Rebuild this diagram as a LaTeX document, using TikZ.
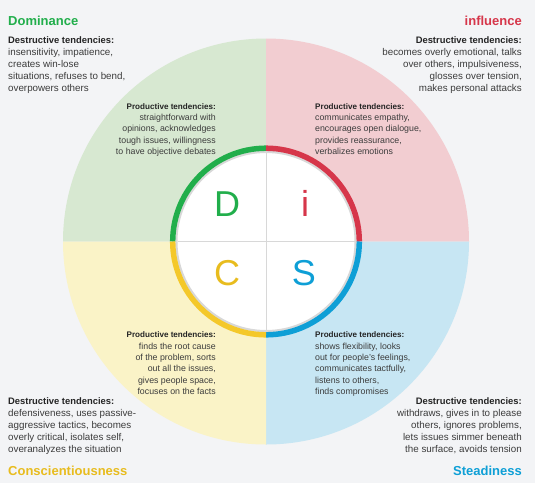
\documentclass[tikz,border=0pt]{standalone}
\usepackage{fontspec}
\setmainfont{Liberation Sans}
\usetikzlibrary{positioning}
\definecolor{discbg}{HTML}{F3F4F6}
\definecolor{discgreen}{HTML}{21AE4B}
\definecolor{discred}{HTML}{D6364A}
\definecolor{discyellow}{HTML}{F4C82A}
\definecolor{discblue}{HTML}{0E9FD6}
\definecolor{discgold}{HTML}{E8BC1E}
\definecolor{fillgreen}{HTML}{D7E8D1}
\definecolor{fillred}{HTML}{F2CDD1}
\definecolor{fillyellow}{HTML}{FAF3C7}
\definecolor{fillblue}{HTML}{C7E6F3}
\definecolor{disctext}{HTML}{3C3C3C}
\definecolor{dischead}{HTML}{242424}
\definecolor{discring}{HTML}{D8D8D8}
\newcommand{\dhead}[1]{{\color{dischead}\bfseries\fontsize{9.4}{12}\selectfont #1}}
\newcommand{\phead}[1]{{\color{dischead}\bfseries\fontsize{8.1}{11.3}\selectfont #1}}

\begin{document}
\begin{tikzpicture}[x=1pt,y=-1pt,line join=round,
  destr/.style={inner sep=0pt,font=\fontsize{9.8}{12}\selectfont,text=disctext},
  prod/.style={inner sep=0pt,font=\fontsize{8.8}{11.3}\selectfont,text=disctext},
  title/.style={inner sep=0pt,font=\fontsize{13}{15}\selectfont\bfseries},
  letter/.style={inner sep=0pt,anchor=base,font=\fontsize{36}{40}\selectfont}]
 \fill[discbg] (0,0) rectangle (535,483);
 \useasboundingbox (0,0) rectangle (535,483);
 \coordinate (o) at (266,241.5);
 \foreach \a/\f in {180/fillgreen,270/fillred,0/fillblue,90/fillyellow}
  {\fill[\f] (o) -- ++(\a:203) arc[start angle=\a,end angle=\a+90,radius=203] -- cycle;}
 \fill[white] (o) circle[radius=91];
 \draw[discring,line width=2.2pt] (o) circle[radius=89.6];
 \foreach \a/\c in {180/discgreen,270/discred,0/discblue,90/discyellow}
  {\draw[\c,line width=5.5pt] (o) ++(\a:93.3) arc[start angle=\a,end angle=\a+90,radius=93.3];}
 \coordinate (top) at (266,153); \coordinate (bot) at (266,330);
 \coordinate (lft) at (177.5,241.5); \coordinate (rgt) at (354.5,241.5);
 \draw[discring,line width=1pt] (top) -- (bot);
 \draw[discring,line width=1pt] (lft) -- (rgt);
 \node[letter,text=discgreen] (d) at (227,216) {D};
 \node[letter,text=discred] (i) at (305,216) {i};
 \node[letter,text=discgold] (c) at (227,285) {C};
 \node[letter,text=discblue] (s) at (304,285) {S};
 \node[title,text=discgreen,anchor=base west] (dtitle) at (8,25) {Dominance};
 \node[title,text=discred,anchor=base east] (ititle) at (522,25) {influence};
 \node[title,text=discgold,anchor=base west] (ctitle) at (8,475) {Conscientiousness};
 \node[title,text=discblue,anchor=base east] (stitle) at (522,475) {Steadiness};
 \node[destr,anchor=north west,align=left] (ddestr) at (8,36)
  {\dhead{Destructive tendencies:}\\insensitivity, impatience,\\creates win-lose\\
   situations, refuses to bend,\\overpowers others};
 \node[destr,anchor=north east,align=right] (idestr) at (522,36)
  {\dhead{Destructive tendencies:}\\becomes overly emotional, talks\\
   over others, impulsiveness,\\glosses over tension,\\makes personal attacks};
 \node[destr,anchor=north west,align=left] (cdestr) at (8,397.3)
  {\dhead{Destructive tendencies:}\\defensiveness, uses passive-\\
   aggressive tactics, becomes\\overly critical, isolates self,\\overanalyzes the situation};
 \node[destr,anchor=north east,align=right] (sdestr) at (522,397.3)
  {\dhead{Destructive tendencies:}\\withdraws, gives in to please\\
   others, ignores problems,\\lets issues simmer beneath\\the surface, avoids tension};
 \node[prod,anchor=north east,align=right] (dprod) at (216,103.2)
  {\phead{Productive tendencies:}\\straightforward with\\opinions, acknowledges\\
   tough issues, willingness\\to have objective debates};
 \node[prod,anchor=north west,align=left] (iprod) at (315,103.2)
  {\phead{Productive tendencies:}\\communicates empathy,\\encourages open dialogue,\\
   provides reassurance,\\verbalizes emotions};
 \node[prod,anchor=north east,align=right] (cprod) at (216,331.9)
  {\phead{Productive tendencies:}\\finds the root cause\\of the problem, sorts\\
   out all the issues,\\gives people space,\\focuses on the facts};
 \node[prod,anchor=north west,align=left] (sprod) at (315,331.9)
  {\phead{Productive tendencies:}\\shows flexibility, looks\\out for people's feelings,\\
   communicates tactfully,\\listens to others,\\finds compromises};
\end{tikzpicture}
\end{document}
